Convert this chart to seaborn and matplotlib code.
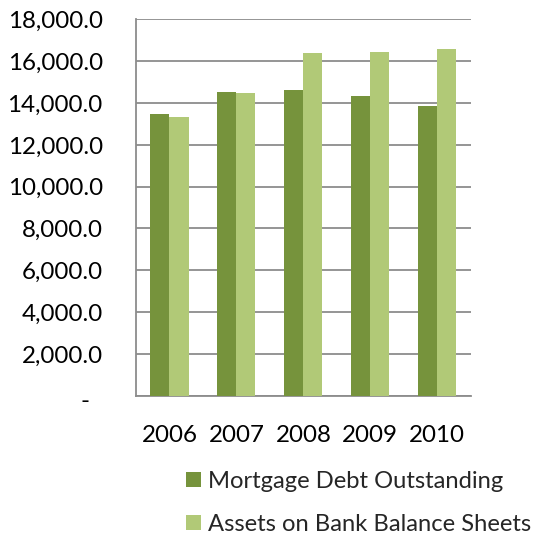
import matplotlib
matplotlib.use("Agg")
import matplotlib.pyplot as plt
import matplotlib.transforms as mtransforms
from matplotlib.patches import Patch
import seaborn as sns
import pandas as pd

years = ["2006", "2007", "2008", "2009", "2010"]
mortgage_debt = [13470, 14520, 14610, 14320, 13840]
bank_assets = [13330, 14460, 16410, 16440, 16590]
series_names = ["Mortgage Debt Outstanding", "Assets on Bank Balance Sheets"]
y_ticks = [0, 2000, 4000, 6000, 8000, 10000, 12000, 14000, 16000, 18000]

colors = ["#76933C", "#B1C977"]
grid_color = "#8C8C8C"

df = pd.DataFrame({
    "year": years * 2,
    "value": mortgage_debt + bank_assets,
    "series": [series_names[0]] * len(years) + [series_names[1]] * len(years),
})

sns.set_theme(style="white")
plt.rcParams["font.family"] = ["Lato", "DejaVu Sans"]

fig = plt.figure(figsize=(5.39, 5.35), dpi=100)
ax = fig.add_axes([0.2523, 0.2604, 0.621, 0.7032])

sns.barplot(data=df, x="year", y="value", hue="series", palette=colors,
            width=0.57, gap=0, saturation=1, ax=ax, legend=False,
            linewidth=0, zorder=3)

ax.set_ylim(0, 18000)
ax.set_xlim(-0.5, len(years) - 0.5)
ax.set_yticks(y_ticks)
ax.set_yticklabels(["-"] + [f"{v:,.1f}" for v in y_ticks[1:]])
ax.set_xlabel("")
ax.set_ylabel("")

ax.yaxis.grid(True, color=grid_color, linewidth=1.3, zorder=0)
ax.set_axisbelow(True)
for side in ["top", "right"]:
    ax.spines[side].set_visible(False)
for side in ["left", "bottom"]:
    ax.spines[side].set_color(grid_color)
    ax.spines[side].set_linewidth(1.3)

ax.tick_params(axis="y", length=0, pad=24, labelsize=17.4, colors="black")
ax.tick_params(axis="x", length=0, pad=21, labelsize=17.4, colors="black")

# accounting-style zero: shift the dash left and slightly down
zero_label = ax.get_yticklabels()[0]
zero_label.set_transform(zero_label.get_transform() +
                         mtransforms.ScaledTranslation(-13 / 100, -4 / 100, fig.dpi_scale_trans))

handles = [Patch(facecolor=c, edgecolor="none") for c in colors]
fig.legend(handles, series_names, loc="upper left",
           bbox_to_anchor=(186 / 539, 1 - 471 / 535), frameon=False,
           fontsize=17.1, handlelength=0.62, handleheight=0.62, handletextpad=0.3,
           labelspacing=0.92, borderaxespad=0, borderpad=0)

fig.savefig("out.png", dpi=100)
